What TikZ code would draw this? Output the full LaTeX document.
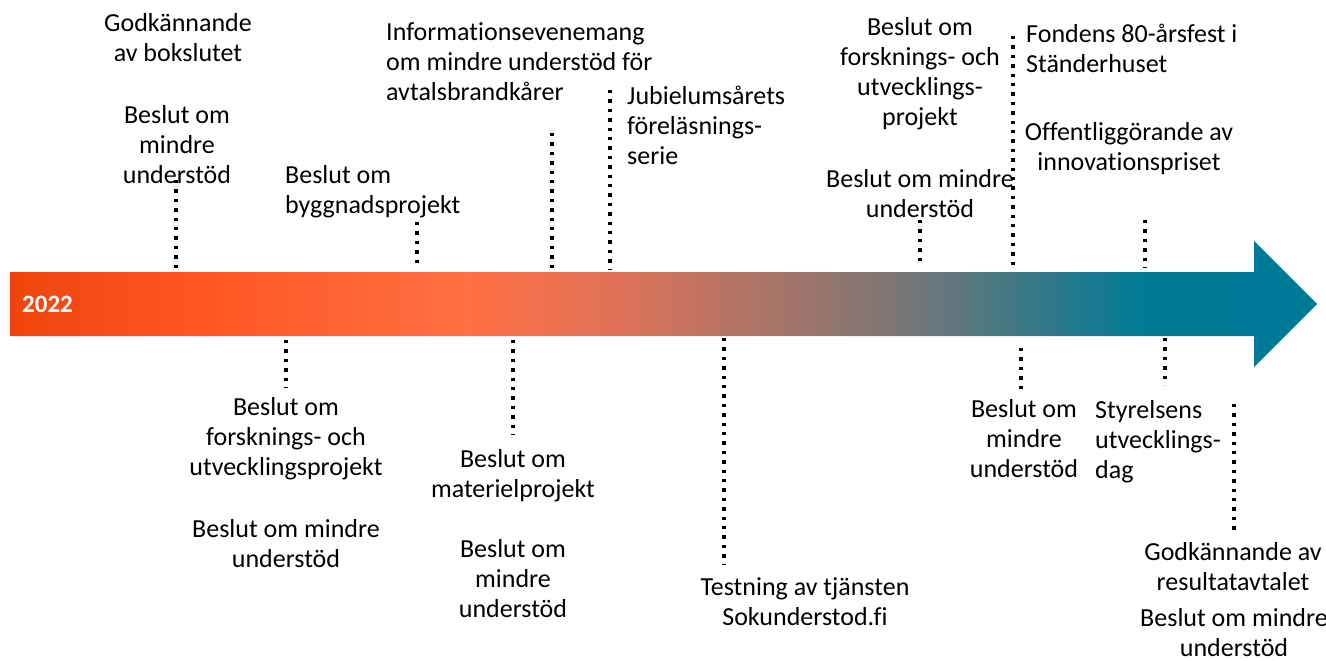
\documentclass[tikz,border=0pt]{standalone}
\usepackage{fontspec}
\setmainfont{Carlito}[Ligatures=NoCommon]
\definecolor{gA}{RGB}{240,68,12}
\definecolor{gB}{RGB}{255,86,34}
\definecolor{gC}{RGB}{255,112,67}
\definecolor{gD}{RGB}{222,114,88}
\definecolor{gE}{RGB}{122,118,118}
\definecolor{gF}{RGB}{0,123,150}
\definecolor{gG}{RGB}{0,122,153}
\begin{document}
\begin{tikzpicture}[x=1pt,y=-1pt,
  lbl/.style={inner sep=0pt, font=\fontsize{26}{30}\selectfont, text=black},
  lblc/.style={lbl, align=center, anchor=base},
  lbll/.style={lbl, align=left, anchor=base west},
  dotline/.style={line width=3.4pt, dash pattern=on 3.4pt off 6pt, black}]
\useasboundingbox (0,0) rectangle (1326,661);
% arrow
\begin{scope}
\clip (10,272) -- (1254,272) -- (1254,241) -- (1317,304) -- (1254,367) -- (1254,336) -- (10,336) -- cycle;
\shade[left color=gA, right color=gB] (9,230) rectangle (200.5,370);
\shade[left color=gB, right color=gC] (200,230) rectangle (470.5,370);
\shade[left color=gC, right color=gD] (470,230) rectangle (620.5,370);
\shade[left color=gD, right color=gE] (620,230) rectangle (900.5,370);
\shade[left color=gE, right color=gF] (900,230) rectangle (1140.5,370);
\shade[left color=gF, right color=gG] (1140,230) rectangle (1320,370);
\end{scope}
\node[inner sep=0pt, anchor=base west, text=white, font=\fontsize{25}{30}\selectfont\bfseries] (year) at (22,312) {2022};
% top labels (anchored at the baseline of the last line)
\node[lblc] (t1) at (178,62) {Godkännande\\av bokslutet};
\node[lblc] (t2) at (177,183) {Beslut om\\mindre\\understöd};
\node[lbll] (t3) at (285,213) {Beslut om\\byggnadsprojekt};
\node[lbll] (t4) at (386,100) {Informationsevenemang\\om mindre understöd för\\avtalsbrandkårer};
\node[lbll] (t5) at (627,164) {Jubielumsårets\\föreläsnings-\\serie};
\node[lblc] (t6) at (920,125) {Beslut om\\forsknings- och\\utvecklings-\\projekt};
\node[lblc] (t7) at (920,217) {Beslut om mindre\\understöd};
\node[lbll] (t8) at (1026,73) {Fondens 80-årsfest i\\Ständerhuset};
\node[lblc] (t9) at (1129,170) {Offentliggörande av\\innovationspriset};
% bottom labels
\node[lblc] (b1) at (286,475) {Beslut om\\forsknings- och\\utvecklingsprojekt};
\node[lblc] (b2) at (286,567) {Beslut om mindre\\understöd};
\node[lblc] (b3) at (513,497) {Beslut om\\materielprojekt};
\node[lblc] (b4) at (513,617) {Beslut om\\mindre\\understöd};
\node[lblc] (b5) at (805,625) {Testning av tjänsten\\Sokunderstod.fi};
\node[lblc] (b6) at (1024,477) {Beslut om\\mindre\\understöd};
\node[lbll] (b7) at (1095,478) {Styrelsens\\utvecklings-\\dag};
\node[lblc] (b8) at (1233,590) {Godkännande av\\resultatavtalet};
\node[lblc] (b9) at (1234,656) {Beslut om mindre\\understöd};
% dotted markers
\coordinate (u1a) at (176,180);  \coordinate (u1b) at (176,268);
\coordinate (u2a) at (417,222);  \coordinate (u2b) at (417,265);
\coordinate (u3a) at (552,133);  \coordinate (u3b) at (552,270);
\coordinate (u4a) at (610,90);   \coordinate (u4b) at (610,270);
\coordinate (u5a) at (920,220);  \coordinate (u5b) at (920,265);
\coordinate (u6a) at (1013,36);  \coordinate (u6b) at (1013,266);
\coordinate (u7a) at (1145,220); \coordinate (u7b) at (1145,268);
\coordinate (d1a) at (286,340);  \coordinate (d1b) at (286,388);
\coordinate (d2a) at (513,340);  \coordinate (d2b) at (513,435);
\coordinate (d3a) at (724,338);  \coordinate (d3b) at (724,565);
\coordinate (d4a) at (1021,348); \coordinate (d4b) at (1021,390);
\coordinate (d5a) at (1165,338); \coordinate (d5b) at (1165,385);
\coordinate (d6a) at (1234,404); \coordinate (d6b) at (1234,530);
\foreach \n in {u1,u2,u3,u4,u5,u6,u7,d1,d2,d3,d4,d5,d6}
  \draw[dotline] (\n a) -- (\n b);
\end{tikzpicture}
\end{document}
